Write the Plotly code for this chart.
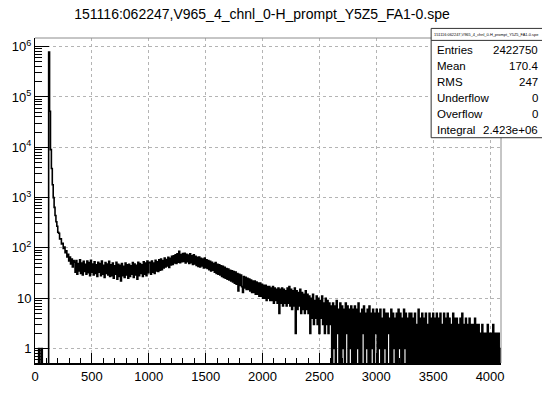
import numpy as np
import plotly.graph_objects as go

title_text = "151116:062247,V965_4_chnl_0-H_prompt_Y5Z5_FA1-0.spe"
bin_width = 8  # ADC channels per drawn bin, 512 bins over 0..4096

# counts per bin, grouped by region of the spectrum
pre_peak = [0, 0, 0, 0, 1, 0, 0, 1, 0, 0, 0, 0, 0, 0, 0]
peak_decay = [780000, 52000, 9000, 3800, 1800, 1000, 640, 440, 330,
              270, 205, 195, 150, 152, 120, 124, 98, 104, 80, 88, 66, 75, 55, 66,
              48, 60, 42, 56]
plateau = [52, 33, 56, 30, 49, 35, 58, 31, 50, 29, 54, 34, 47, 30, 55, 32, 51, 28, 57, 33,
           48, 29, 53, 31, 46, 27, 52, 33, 49, 28, 55, 30, 45, 26, 51, 31, 48, 29, 54, 27,
           46, 28, 50, 25, 44, 30, 52, 24, 47, 27, 45, 22, 49, 28, 43, 26, 50, 29, 46, 25,
           47, 27, 44, 30, 51, 26, 48, 29, 45, 24, 52, 28, 49, 31, 46, 27, 53, 30, 50, 28,
           55, 32, 51]
bump = [52, 30, 55, 33, 50, 31, 57, 35, 53, 34, 58, 36,
        60, 37, 56, 40, 63, 42, 59, 44, 65, 41, 62, 46, 68,
        47, 70, 50, 73, 49, 76, 52, 86, 51, 74, 53, 77,
        54, 78, 50, 75, 53, 72, 49, 76, 51, 70, 47, 73, 48,
        68, 45, 65, 43, 66, 42, 62, 44, 60, 40, 63, 41,
        58, 39, 56, 37, 54, 35, 52, 36, 49, 33, 51, 31, 47]
falloff = [30, 46, 29, 44, 27, 43, 26, 41, 25, 39, 24, 38, 23, 36, 22, 35, 21, 34, 20, 33,
           19, 31, 14, 30, 18,
           29, 17, 13, 27, 16, 26, 15, 25, 15, 24, 14, 23, 13, 22, 13, 22, 12, 21, 12, 20,
           11, 20, 11, 19, 10,
           18, 10, 18, 9, 17, 10, 17, 9, 16, 9, 17, 8, 16, 9, 15, 8, 16, 5, 15, 8,
           16, 7, 15, 8, 14,
           7, 16, 8, 17, 7, 15, 6, 14, 7, 16, 2, 14, 6, 13, 7, 15, 5, 13, 6, 12,
           5, 14, 6, 12, 5,
           11, 2, 10, 4, 12, 3, 9, 4, 11, 3, 10, 2, 9, 4, 11, 3, 8, 2, 10, 3,
           9, 2, 8, 3, 7]
sparse_tail = [0, 8, 1, 7, 0, 9, 2, 6, 0, 8, 0, 7, 1, 6, 0, 8, 2, 7, 0, 6, 1, 7, 0, 6, 0,
               7, 0, 6, 1, 8, 0, 5, 0, 6, 2, 7, 0, 5, 1, 6, 0, 7, 0, 5, 1, 6, 0, 5, 2, 6,
               0, 5, 1, 6, 0, 4, 0, 6, 1, 5, 0, 5, 2, 4, 0, 6, 0, 5, 1, 4, 0, 5, 0, 6, 1,
               5, 0, 4, 0, 6, 1, 5, 0, 4, 0, 5, 0]
end_tail = [5, 0, 4, 0, 5, 0, 3, 0, 6, 0, 4, 0, 5, 0, 4, 0, 5, 0, 3, 0, 5, 0, 4, 0, 5,
            0, 4, 0, 5, 0, 4, 0, 5, 0, 3, 0, 5, 0, 4, 0, 5, 0, 4, 0, 3, 0, 5, 0, 4, 0,
            4, 0, 3, 0, 4, 0, 5, 0, 3, 0, 4, 0, 3, 0, 4, 0, 3, 0, 3, 0, 4, 0, 3, 0, 3,
            0, 2, 0, 3, 0, 2, 0, 2, 0, 3, 0, 2, 0, 2, 0, 3, 0, 2, 0, 2, 0, 2, 0, 1]

x_ticks = [0, 500, 1000, 1500, 2000, 2500, 3000, 3500, 4000]
y_ticks = [1, 10, 100, 1000, 10000, 100000, 1000000]
y_tick_labels = ["1", "10", "10<sup>2</sup>", "10<sup>3</sup>", "10<sup>4</sup>",
                 "10<sup>5</sup>", "10<sup>6</sup>"]

stat_names = ["Entries", "Mean", "RMS", "Underflow", "Overflow", "Integral"]
stat_values = ["2422750", "170.4", "247", "0", "0", "2.423e+06"]

counts = np.array(pre_peak + peak_decay + plateau + bump + falloff + sparse_tail + end_tail,
                  dtype=float)
assert len(counts) == 512
edges = np.arange(len(counts) + 1) * bin_width

# empty bins sit just under the frame so the step drops onto the axis, as on a log pad
y_min, y_max = 0.516, 10 ** 6.172
y_draw = np.where(counts > 0, counts, y_min * 0.9)
y_step = np.append(y_draw, y_draw[-1])

W, H = 542, 396
L, R, T, B = 34, 41, 38, 19
PW, PH = W - L - R, H - T - B


def px(x):
    return (x - L) / PW


def py(y):
    return (H - B - y) / PH


fig = go.Figure()
fig.add_trace(go.Scatter(
    x=edges, y=y_step, mode="lines",
    line=dict(color="black", width=1.6, shape="hv", simplify=False),
    hoverinfo="skip", showlegend=False,
))

grid = dict(showgrid=True, gridcolor="#b4b4b4", griddash="dot", gridwidth=1)

fig.update_xaxes(
    range=[0, 4096], tickmode="array", tickvals=x_ticks,
    ticktext=[str(v) for v in x_ticks],
    ticks="inside", ticklen=10, tickcolor="black", tickwidth=1,
    showline=True, linecolor="black", linewidth=2, zeroline=False,
    minor=dict(dtick=100, tick0=0, ticks="inside", ticklen=5, tickcolor="black",
               showgrid=False),
    **grid,
)
minor_y = [k * 10 ** p for p in range(-1, 7) for k in range(2, 10)
           if y_min <= k * 10 ** p <= y_max]
fig.update_yaxes(
    type="log", range=[np.log10(y_min), np.log10(y_max)],
    tickmode="array", tickvals=y_ticks, ticktext=y_tick_labels,
    ticks="inside", ticklen=14, tickcolor="black", tickwidth=1,
    showline=True, linecolor="black", linewidth=1, zeroline=False,
    minor=dict(tickmode="array", tickvals=minor_y, ticks="inside", ticklen=7,
               tickcolor="black", showgrid=False),
    **grid,
)

box_left, box_top, box_bottom, box_rule = 431, 28, 142, 40.5
shapes = [
    # upper and right edges of the frame
    dict(type="line", xref="x domain", yref="y domain", x0=0, x1=1, y0=1, y1=1,
         line=dict(color="#8c8c8c", width=1)),
    dict(type="line", xref="x domain", yref="y domain", x0=1, x1=1, y0=0, y1=1,
         line=dict(color="#8c8c8c", width=1)),
    # statistics box and its title row
    dict(type="rect", xref="paper", yref="paper",
         x0=px(box_left), x1=px(W + 2), y0=py(box_bottom), y1=py(box_top),
         fillcolor="white", line=dict(color="#333333", width=1), layer="above"),
    dict(type="line", xref="paper", yref="paper",
         x0=px(box_left), x1=px(W + 2), y0=py(box_rule), y1=py(box_rule),
         line=dict(color="#333333", width=1), layer="above"),
]

annotations = [
    dict(text=title_text, xref="paper", yref="paper", x=px(432), y=py(34),
         xanchor="left", yanchor="middle", showarrow=False,
         font=dict(size=3.9, color="black")),
]
for i, (name, val) in enumerate(zip(stat_names, stat_values)):
    yy = py(50 + i * 16.8)
    annotations.append(dict(text=name, xref="paper", yref="paper", x=px(435), y=yy,
                            xanchor="left", yanchor="middle", showarrow=False,
                            font=dict(size=11.5, color="black")))
    annotations.append(dict(text=val, xref="paper", yref="paper", x=px(540.5), y=yy,
                            xanchor="right", yanchor="middle", showarrow=False,
                            font=dict(size=11.5, color="black")))

fig.update_layout(
    width=W, height=H, margin=dict(l=L, r=R, t=T, b=B),
    paper_bgcolor="white", plot_bgcolor="white",
    font=dict(family="Liberation Sans, Arial, sans-serif", size=13, color="black"),
    title=dict(text=title_text, xref="container", yref="container",
               x=262 / W, xanchor="center", y=1 - 14 / H, yanchor="middle",
               font=dict(size=14)),
    shapes=shapes, annotations=annotations, showlegend=False,
)

fig.write_html("out.html")
